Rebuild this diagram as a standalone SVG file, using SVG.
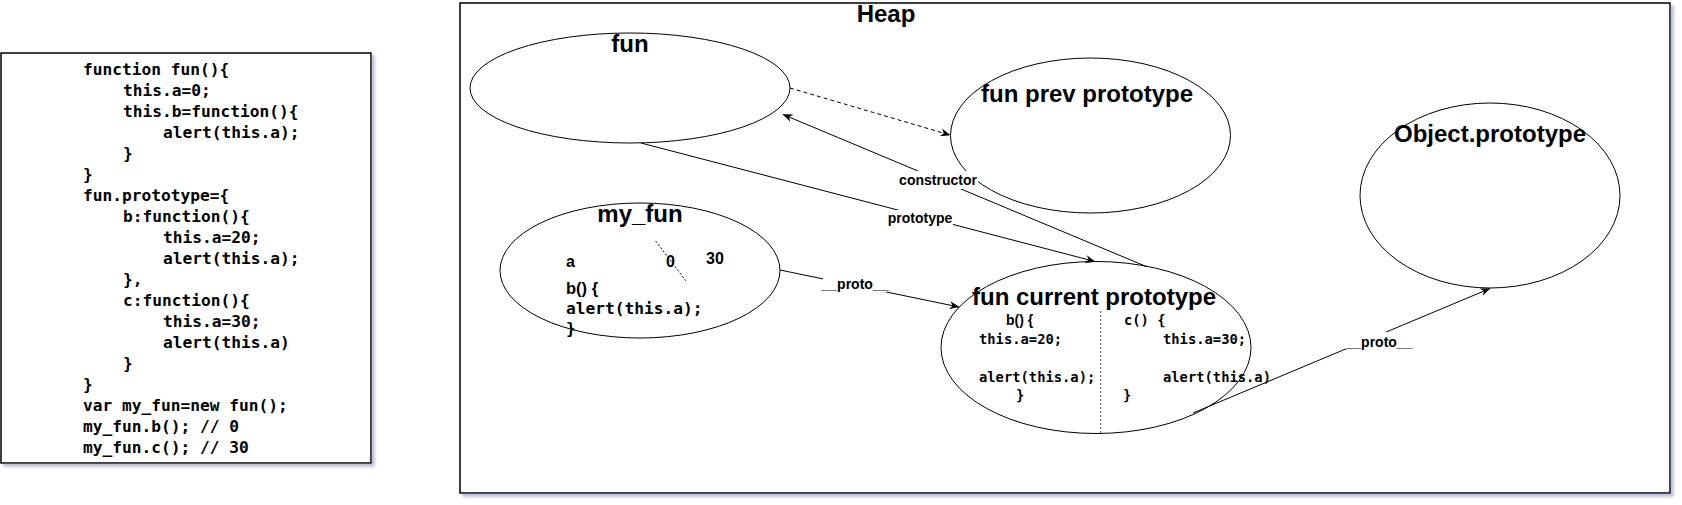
<svg xmlns="http://www.w3.org/2000/svg" width="1682" height="505" viewBox="0 0 1682 505">
<style>
.box{fill:#fff;stroke:#000;stroke-width:1.5}
.ell{fill:#fff;stroke:#000;stroke-width:1}
.title{font-family:"Liberation Sans",Arial,sans-serif;font-weight:bold;font-size:24px;fill:#000;text-anchor:middle}
.code{font-family:"DejaVu Sans Mono",monospace;font-weight:bold;font-size:16.2px;fill:#000}
.small{font-family:"DejaVu Sans Mono",monospace;font-weight:bold;font-size:13.8px;fill:#000}
.sans{font-family:"Liberation Sans",Arial,sans-serif;font-weight:bold;fill:#000}
.lbl{font-family:"Liberation Sans",Arial,sans-serif;font-weight:bold;font-size:14px;fill:#000;text-anchor:middle}
.conn{fill:none;stroke:#000;stroke-width:1}
.lblbg{fill:#fff;stroke:none}
</style>
<defs>
<filter id="sh" x="-5%" y="-5%" width="110%" height="110%">
<feDropShadow dx="3" dy="3" stdDeviation="1.5" flood-color="#8e93b5" flood-opacity="0.6"/>
</filter>
<marker id="arr" viewBox="0 0 10 8" refX="9.5" refY="4" markerWidth="10" markerHeight="8" orient="auto" markerUnits="userSpaceOnUse">
<path d="M0,0 L10,4 L0,8 L3,4 Z" fill="#000"/>
</marker>
</defs>
<rect width="1682" height="505" fill="#fff"/>

<g id="code">
<rect class="box" x="1" y="53" width="370" height="410" filter="url(#sh)"/>
<text class="code" x="83" y="75">function fun(){</text>
<text class="code" x="123" y="96">this.a=0;</text>
<text class="code" x="123" y="117">this.b=function(){</text>
<text class="code" x="163" y="138">alert(this.a);</text>
<text class="code" x="123" y="159">}</text>
<text class="code" x="83" y="180">}</text>
<text class="code" x="83" y="201">fun.prototype={</text>
<text class="code" x="123" y="222">b:function(){</text>
<text class="code" x="163" y="243">this.a=20;</text>
<text class="code" x="163" y="264">alert(this.a);</text>
<text class="code" x="123" y="285">},</text>
<text class="code" x="123" y="306">c:function(){</text>
<text class="code" x="163" y="327">this.a=30;</text>
<text class="code" x="163" y="348">alert(this.a)</text>
<text class="code" x="123" y="369">}</text>
<text class="code" x="83" y="390">}</text>
<text class="code" x="83" y="411">var my_fun=new fun();</text>
<text class="code" x="83" y="432">my_fun.b(); // 0</text>
<text class="code" x="83" y="453">my_fun.c(); // 30</text>
</g>

<g id="heap">
<rect class="box" x="460" y="3" width="1210" height="490" filter="url(#sh)"/>
<text class="title" x="886" y="22">Heap</text>
</g>

<g id="fun">
<ellipse class="ell" cx="630" cy="88" rx="160" ry="55"/>
<text class="title" x="630" y="52">fun</text>
</g>

<g id="fun-prev-prototype">
<ellipse class="ell" cx="1090.5" cy="135.5" rx="140" ry="77.5"/>
<text class="title" x="1087" y="102">fun prev prototype</text>
</g>

<g id="object-prototype">
<ellipse class="ell" cx="1490" cy="195.5" rx="130" ry="92.5"/>
<text class="title" x="1490" y="142">Object.prototype</text>
</g>

<g id="my_fun">
<ellipse class="ell" cx="640" cy="270.5" rx="140" ry="67.5"/>
<text class="title" x="640" y="222">my_fun</text>
<line x1="655.7" y1="241" x2="685.7" y2="280.7" stroke="#000" stroke-width="1" stroke-dasharray="2 2"/>
<text class="sans" font-size="16" x="566" y="267">a</text>
<text class="sans" font-size="16" x="666" y="267">0</text>
<text class="sans" font-size="16" x="706" y="264">30</text>
<text class="sans" font-size="16.5" x="566" y="294">b() {</text>
<text class="code" x="566" y="314">alert(this.a);</text>
<text class="code" x="566" y="334">}</text>
</g>

<g id="fun-current-prototype">
<ellipse class="ell" cx="1096" cy="347.5" rx="155" ry="86"/>
<text class="title" x="1094" y="305">fun current prototype</text>
<line x1="1100.7" y1="311" x2="1100.7" y2="433" stroke="#555" stroke-width="1" stroke-dasharray="2 2"/>
<text class="sans" font-size="14" x="1006" y="325">b() {</text>
<text class="small" x="979" y="344">this.a=20;</text>
<text class="small" x="979" y="382">alert(this.a);</text>
<text class="small" x="1016" y="400">}</text>
<text class="small" font-weight="normal" font-size="12.5" x="1124" y="325">c() {</text>
<text class="small" x="1163" y="344">this.a=30;</text>
<text class="small" x="1163" y="382">alert(this.a)</text>
<text class="small" x="1123" y="400">}</text>
</g>

<g id="connectors">
<path class="conn" d="M790,88 L950,135" stroke-dasharray="4 3" marker-end="url(#arr)"/>
<path class="conn" d="M1146.7,266.7 L783,114.5" marker-end="url(#arr)"/>
<path class="conn" d="M641,143 L1095,261.5" stroke="#808080" marker-end="url(#arr)"/>
<path class="conn" d="M780,270 L959,307" marker-end="url(#arr)"/>
<path class="conn" d="M1193,413 L1490,288.5" marker-end="url(#arr)"/>
<rect class="lblbg" x="898" y="171" width="80" height="18"/>
<text class="lbl" x="938" y="185">constructor</text>
<rect class="lblbg" x="887" y="210" width="66" height="16"/>
<text class="lbl" x="920" y="223">prototype</text>
<rect class="lblbg" x="823" y="275" width="64" height="17"/>
<text class="lbl" x="855" y="289">__proto__</text>
<rect class="lblbg" x="1345" y="332" width="68" height="17"/>
<text class="lbl" x="1379" y="347">__proto__</text>
</g>
</svg>
